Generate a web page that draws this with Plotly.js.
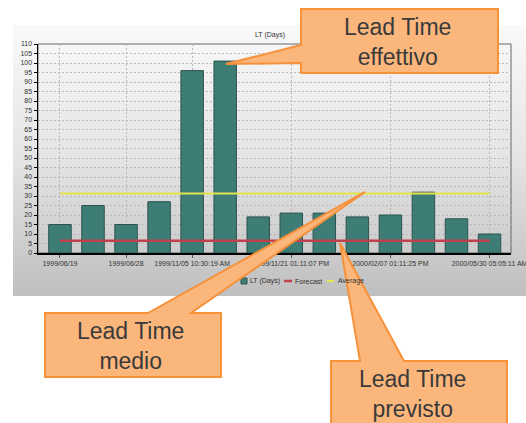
<!DOCTYPE html>
<html>
<head>
<meta charset="utf-8">
<script src="https://cdn.plot.ly/plotly-3.0.1.min.js"></script>
<style>
  html, body { margin: 0; padding: 0; background: #ffffff; }
  #panel { position: absolute; left: 13px; top: 25px; width: 513px; height: 271px;
           background: linear-gradient(to bottom, #f9f9f9 0%, #e4e4e4 50%, #bfbfbf 100%); }
  #chart { position: absolute; left: 0; top: 0; width: 526px; height: 423px; }
</style>
</head>
<body>
<div id="panel"></div>
<div id="chart"></div>
<script>
// ---- data ----
const barNo = [1, 2, 3, 4, 5, 6, 7, 8, 9, 10, 11, 12, 13, 14];
const leadTimeDays = [15, 25, 15, 27, 96, 101, 19, 21, 21, 19, 20, 32, 18, 10];
const forecastDays = [6.4, 6.4, 6.4, 6.4, 6.4, 6.4, 6.4, 6.4, 6.4, 6.4, 6.4, 6.4, 6.4, 6.4];
const averageDays = [31.3, 31.3, 31.3, 31.3, 31.3, 31.3, 31.3, 31.3, 31.3, 31.3, 31.3, 31.3, 31.3, 31.3];
const tickPos = [1, 3, 5, 8, 11, 14];
const tickLabels = ["1999/06/19", "1999/06/28", "1999/11/05 10:30:19 AM",
                    "1999/11/21 01:11:07 PM", "2000/02/07 01:11:25 PM", "2000/05/30 05:05:11 AM"];
const seriesNames = ["LT (Days)", "Forecast", "Average"];
const seriesColors = ["#3e7c76", "#c0404e", "#e4e44e"];
const calloutTexts = ["Lead Time<br>effettivo", "Lead Time<br>medio", "Lead Time<br>previsto"];

// ---- layout helpers (pixel -> paper) ----
const W = 526, H = 423, mL = 38, mR = 15, mT = 44, mB = 170;
const pw = W - mL - mR, ph = H - mT - mB;
const px = x => (x - mL) / pw;
const py = y => (H - mB - y) / ph;
const path = pts => 'M' + pts.map(p => px(p[0]).toFixed(4) + ',' + py(p[1]).toFixed(4)).join(' L') + ' Z';

const calloutFill = '#fbb67c', calloutLine = '#f7913a';
const callout = pts => ({
  type: 'path', xref: 'paper', yref: 'paper', layer: 'above',
  path: path(pts), fillcolor: calloutFill, line: { color: calloutLine, width: 2 }
});

const traces = [
  { type: 'bar', x: barNo, y: leadTimeDays, name: seriesNames[0], width: 0.68,
    marker: { color: seriesColors[0], line: { color: '#2c524e', width: 1 } } },
  { type: 'scatter', mode: 'lines', x: barNo, y: forecastDays, name: seriesNames[1],
    line: { color: seriesColors[1], width: 2.5 } },
  { type: 'scatter', mode: 'lines', x: barNo, y: averageDays, name: seriesNames[2],
    line: { color: seriesColors[2], width: 2 } }
];

const fam = 'Liberation Sans, Arial, sans-serif';
const axisFont = { family: fam, size: 7, color: '#333333' };
const calloutFont = { family: fam, size: 23, color: '#3a3a3a' };
const legendFont = { family: fam, size: 7, color: '#333333' };

// compact legend, drawn like the original's small legend row
const legendY = 281;
const legendShapes = [
  { type: 'rect', xref: 'paper', yref: 'paper', layer: 'below',
    x0: px(241), x1: px(247), y0: py(284), y1: py(278),
    fillcolor: seriesColors[0], line: { color: '#2c524e', width: 1 } },
  { type: 'line', xref: 'paper', yref: 'paper', layer: 'below',
    x0: px(284), x1: px(292), y0: py(legendY), y1: py(legendY),
    line: { color: seriesColors[1], width: 2.5 } },
  { type: 'line', xref: 'paper', yref: 'paper', layer: 'below',
    x0: px(327), x1: px(334), y0: py(legendY), y1: py(legendY),
    line: { color: seriesColors[2], width: 2 } }
];
const legendTextX = [248, 293, 336];
const legendAnnots = seriesNames.map((n, i) => ({
  xref: 'paper', yref: 'paper', x: px(legendTextX[i]), y: py(legendY), text: n, showarrow: false,
  font: legendFont, xanchor: 'left', yanchor: 'middle'
}));

const layout = {
  width: W, height: H,
  margin: { l: mL, r: mR, t: mT, b: mB, pad: 0 },
  paper_bgcolor: 'rgba(0,0,0,0)', plot_bgcolor: 'rgba(0,0,0,0)',
  title: { text: 'LT (Days)', font: { family: fam, size: 7, color: '#333' },
           xref: 'paper', x: px(270), xanchor: 'center', yref: 'container', y: 1 - 35 / H, yanchor: 'middle' },
  showlegend: false,
  xaxis: { range: [0.335, 14.65], tickvals: tickPos, ticktext: tickLabels, tickangle: 0,
           ticklabeloverflow: 'allow',
           showgrid: true, gridcolor: '#b9b9b9', griddash: '2px,2px', gridwidth: 1,
           showline: true, linecolor: '#000', linewidth: 1.5, ticks: 'outside', ticklen: 3, tickcolor: '#555',
           tickfont: axisFont, zeroline: false, fixedrange: true },
  yaxis: { range: [0, 110], dtick: 5, tick0: 0,
           showgrid: true, gridcolor: '#b9b9b9', griddash: '2px,2px', gridwidth: 1,
           showline: true, linecolor: '#000', linewidth: 1.5, ticks: 'outside', ticklen: 3, tickcolor: '#000',
           tickfont: axisFont, zeroline: false, fixedrange: true },
  shapes: [
    { type: 'rect', xref: 'paper', yref: 'paper', x0: 0, x1: 1, y0: 0, y1: 1, layer: 'below',
      line: { color: '#666', width: 1 } },
    ...legendShapes,
    callout([[301, 9], [498, 9], [498, 73], [301, 73], [301, 63], [226, 64], [301, 45]]),
    callout([[45, 313], [148, 313], [365, 192], [191, 313], [221, 313], [221, 377], [45, 377]]),
    callout([[331, 361], [360, 361], [340, 243], [404, 361], [507, 361], [507, 432], [331, 432]])
  ],
  annotations: [
    ...legendAnnots,
    { xref: 'paper', yref: 'paper', x: px(397), y: py(42), text: calloutTexts[0], showarrow: false,
      font: calloutFont, align: 'center', xanchor: 'center', yanchor: 'middle' },
    { xref: 'paper', yref: 'paper', x: px(130), y: py(346), text: calloutTexts[1], showarrow: false,
      font: calloutFont, align: 'center', xanchor: 'center', yanchor: 'middle' },
    { xref: 'paper', yref: 'paper', x: px(412), y: py(394), text: calloutTexts[2], showarrow: false,
      font: calloutFont, align: 'center', xanchor: 'center', yanchor: 'middle' }
  ]
};

Plotly.newPlot('chart', traces, layout, { displayModeBar: false, staticPlot: true });
</script>
</body>
</html>
